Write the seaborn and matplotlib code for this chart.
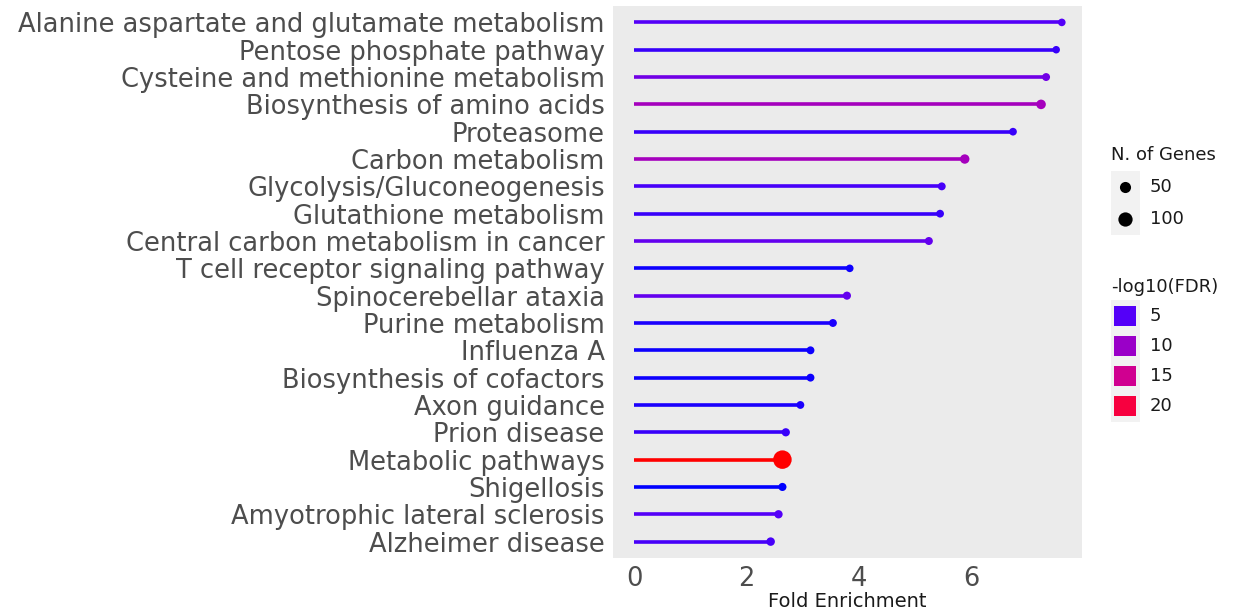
import numpy as np
import pandas as pd
import matplotlib
matplotlib.use("Agg")
import matplotlib.pyplot as plt
from matplotlib.colors import LinearSegmentedColormap, Normalize
from matplotlib.patches import Rectangle
import seaborn as sns

# Enriched pathways, top to bottom
pathways = [
    "Alanine aspartate and glutamate metabolism",
    "Pentose phosphate pathway",
    "Cysteine and methionine metabolism",
    "Biosynthesis of amino acids",
    "Proteasome",
    "Carbon metabolism",
    "Glycolysis/Gluconeogenesis",
    "Glutathione metabolism",
    "Central carbon metabolism in cancer",
    "T cell receptor signaling pathway",
    "Spinocerebellar ataxia",
    "Purine metabolism",
    "Influenza A",
    "Biosynthesis of cofactors",
    "Axon guidance",
    "Prion disease",
    "Metabolic pathways",
    "Shigellosis",
    "Amyotrophic lateral sclerosis",
    "Alzheimer disease",
]
fold_enrichment = [7.62, 7.52, 7.34, 7.25, 6.75, 5.89, 5.48, 5.45, 5.25, 3.84,
                   3.79, 3.54, 3.14, 3.14, 2.96, 2.70, 2.64, 2.64, 2.57, 2.43]
neg_log10_fdr = [5.0, 4.0, 7.0, 11.0, 4.0, 11.0, 4.5, 4.0, 6.0, 2.5,
                 6.0, 3.0, 2.5, 2.5, 3.0, 4.0, 22.0, 2.0, 5.0, 4.5]
n_genes = [9, 8, 12, 30, 10, 28, 12, 11, 13, 9,
           14, 12, 12, 12, 11, 15, 187, 14, 16, 18]

size_breaks = [50, 100]
color_breaks = [5, 10, 15, 20]

df = pd.DataFrame({"Pathway": pathways, "FoldEnrichment": fold_enrichment,
                   "FDR": neg_log10_fdr, "Genes": n_genes})

# blue -> red gradient for -log10(FDR)
cmap = LinearSegmentedColormap.from_list(
    "fdr", [(0.0, "#0000FF"), (0.15, "#5500F8"), (0.40, "#9A00C8"),
            (0.65, "#D00090"), (0.90, "#F70040"), (1.0, "#FF0000")])
cnorm = Normalize(vmin=2, vmax=22)

# marker area grows linearly with gene count
size_lo, size_hi = 8, 187
s_lo, s_hi = (7.5 * 0.72) ** 2, (18.5 * 0.72) ** 2


def marker_area(n):
    return s_lo + (s_hi - s_lo) * (n - size_lo) / (size_hi - size_lo)


W, H = 1239, 610
fig = plt.figure(figsize=(W / 100, H / 100), dpi=100)
sns.set_style("white")
ax = fig.add_axes([613 / W, 1 - 558 / H, (1082 - 613) / W, (558 - 6) / H])
ax.set_facecolor("#EBEBEB")

ypos = np.arange(len(pathways))
for y, x, c in zip(ypos, df["FoldEnrichment"], df["FDR"]):
    ax.hlines(y, 0, x, color=cmap(cnorm(c)), linewidth=2.6, zorder=2)

sns.scatterplot(data=df, x="FoldEnrichment", y=ypos, hue="FDR", palette=cmap,
                hue_norm=cnorm, size="Genes", sizes=(s_lo, s_hi),
                size_norm=(size_lo, size_hi), linewidth=0, legend=False,
                ax=ax, zorder=3)

ax.set_ylim(len(pathways) - 1 + 0.6, -0.6)
ax.set_xlim(-0.38, 7.98)
ax.set_yticks(ypos)
ax.set_yticklabels(pathways)
ax.set_xticks([0, 2, 4, 6])
ax.tick_params(axis="both", length=4, width=1.1, color="#333333",
               labelcolor="#4D4D4D", labelsize=18.5, pad=2)
for sp in ax.spines.values():
    sp.set_visible(False)
ax.set_xlabel("Fold Enrichment", fontsize=14, color="#1A1A1A", labelpad=0)
ax.set_ylabel("")

# legends
lg = fig.add_axes([0, 0, 1, 1], zorder=5)
lg.set_xlim(0, W)
lg.set_ylim(H, 0)
lg.axis("off")

leg_fs = 13
lg.text(1111, 155, "N. of Genes", fontsize=leg_fs, va="center", ha="left",
        color="#1A1A1A")
lg.add_patch(Rectangle((1111, 171), 29, 64, color="#F2F2F2", lw=0))
for i, b in enumerate(size_breaks):
    yy = 187 + 32 * i
    lg.scatter([1125], [yy], s=marker_area(b), color="black", linewidths=0)
    lg.text(1150, yy, str(b), fontsize=leg_fs, va="center", ha="left",
            color="#1A1A1A")

lg.text(1111, 287, "-log10(FDR)", fontsize=leg_fs, va="center", ha="left",
        color="#1A1A1A")
lg.add_patch(Rectangle((1111, 300), 29, 122, color="#F2F2F2", lw=0))
for i, b in enumerate(color_breaks):
    yy = 316 + 30 * i
    lg.add_patch(Rectangle((1114, yy - 10), 22, 20, color=cmap(cnorm(b)), lw=0))
    lg.text(1150, yy, str(b), fontsize=leg_fs, va="center", ha="left",
            color="#1A1A1A")

fig.savefig("out.png", dpi=100)
